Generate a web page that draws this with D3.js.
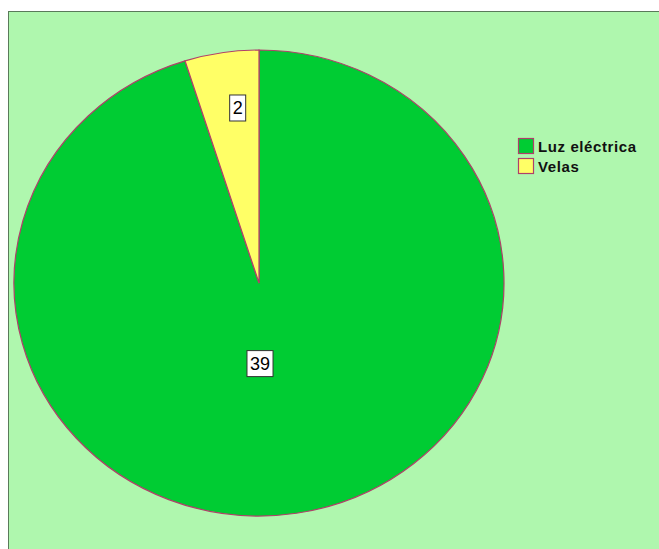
<!DOCTYPE html>
<html>
<head>
<meta charset="utf-8">
<script src="https://cdn.jsdelivr.net/npm/d3@7"></script>
<style>
  body { margin: 0; background: #fff; }
  svg { display: block; font-family: Arial, "Liberation Sans", sans-serif; }
</style>
</head>
<body>
<div class="chart"></div>
<script>
const categories = ["Luz eléctrica", "Velas"];
const counts = [39, 2];
const colors = ["#00cc33", "#ffff66"];

const width = 659;
const height = 549;

const svg = d3
  .select(".chart")
  .append("svg")
  .attr("width", width)
  .attr("height", height);

// panel background
svg
  .append("rect")
  .attr("x", 8.5)
  .attr("y", 11.5)
  .attr("width", width)
  .attr("height", height)
  .attr("fill", "#aff7ae")
  .attr("stroke", "#5a7a5a")
  .attr("stroke-width", 1);

const cx = 259, cy = 283, rx = 245, ry = 233;

const pie = d3
  .pie()
  .sort(null)
  .value((d) => d);

const arcs = pie(counts);
const arc = d3.arc().innerRadius(0).outerRadius(rx);

const pieGroup = svg
  .append("g")
  .attr("transform", `translate(${cx}, ${cy}) scale(1, ${ry / rx})`);

pieGroup
  .selectAll("path")
  .data(arcs)
  .enter()
  .append("path")
  .attr("d", arc)
  .attr("fill", (d, i) => colors[i])
  .attr("stroke", "#b0406a")
  .attr("stroke-width", 1.2)
  .attr("vector-effect", "non-scaling-stroke");

// value labels
const total = d3.sum(counts);
const labels = svg.append("g").attr("transform", `translate(${cx}, ${cy})`);

arcs.forEach((d, i) => {
  const share = counts[i] / total;
  const f = share > 0.5 ? 0.35 : 0.76;
  const a = (d.startAngle + d.endAngle) / 2;
  const x = share > 0.5 ? 1 : Math.sin(a) * rx * f * 0.75;
  const y = -Math.cos(a) * ry * f;
  const g = labels.append("g").attr("transform", `translate(${x}, ${y})`);
  const t = g
    .append("text")
    .text(counts[i])
    .attr("text-anchor", "middle")
    .attr("dy", "0.36em")
    .style("font-size", "18px")
    .attr("fill", "#000");
  const w = t.node().getComputedTextLength() + 6;
  g.insert("rect", "text")
    .attr("x", -w / 2)
    .attr("y", -13)
    .attr("width", w)
    .attr("height", 26)
    .attr("fill", "#fff")
    .attr("stroke", "#333")
    .attr("stroke-width", 1);
});

// legend
const legend = svg
  .append("g")
  .attr("transform", "translate(518, 138)")
  .selectAll("g")
  .data(categories)
  .enter()
  .append("g")
  .attr("transform", (d, i) => `translate(0, ${i * 20})`);

legend
  .append("rect")
  .attr("x", 0.5)
  .attr("y", 0.5)
  .attr("width", 15)
  .attr("height", 15)
  .attr("fill", (d, i) => colors[i])
  .attr("stroke", "#b0406a")
  .attr("stroke-width", 1.2);

legend
  .append("text")
  .text((d) => d)
  .attr("x", 20)
  .attr("y", 14)
  .style("font-size", "15px")
  .style("font-weight", "bold")
  .style("letter-spacing", "0.6px")
  .attr("fill", "#111");
</script>
</body>
</html>
